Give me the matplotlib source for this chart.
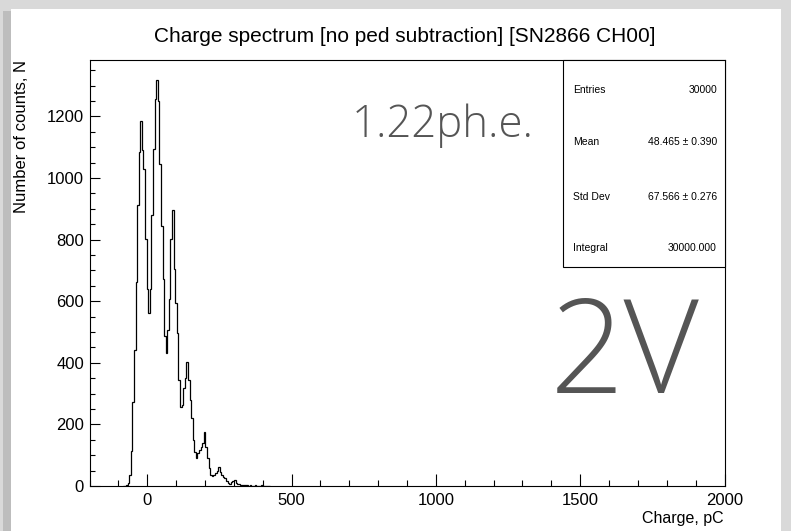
import numpy as np
import matplotlib.pyplot as plt
from matplotlib import font_manager
from matplotlib.patches import Rectangle
from matplotlib.ticker import MultipleLocator

# histogram: bins of 5.5 pC starting at -84.5 pC
bin_start = -84.5
bin_width = 5.5
counts = [
    0, 1, 3, 10, 36, 112, 273, 441, 661, 912,
    1084, 1185, 1091, 1029, 801, 641, 563, 638, 880, 1094,
    1257, 1317, 1250, 1045, 845, 671, 486, 433, 508, 606,
    801, 896, 704, 595, 497, 345, 258, 262, 318, 352,
    402, 345, 280, 221, 150, 110, 91, 107, 117, 128,
    140, 176, 128, 91, 58, 36, 33, 36, 42, 50,
    62, 47, 36, 30, 26, 17, 10, 8, 14, 17,
    20, 10, 7, 5, 3, 4, 3, 2, 2, 1,
    2, 1, 1, 2, 0, 1, 1, 2, 0, 1,
    0, 1, 1,
]

title = "Charge spectrum [no ped subtraction] [SN2866 CH00]"
xlabel = "Charge, pC"
ylabel = "Number of counts, N"
stats_names = ["Entries", "Mean", "Std Dev", "Integral"]
stats_values = ["30000", "48.465 \u00b1 0.390", "67.566 \u00b1 0.276", "30000.000"]
note_small = "1.22ph.e."
note_big = "2V"

W, H = 791, 531
plt.rcParams['font.family'] = ['Liberation Sans', 'DejaVu Sans']

# a light sans for the big grey labels, if one is around
light_font = None
for path in font_manager.findSystemFonts():
    name = path.split('/')[-1]
    if name in ('Lato-Light.ttf', 'OpenSans-Light.ttf', 'Roboto-Light.ttf'):
        light_font = path
        break
if light_font:
    light_props = dict(fontproperties=font_manager.FontProperties(fname=light_font))
else:
    light_props = dict(family=['Lato', 'DejaVu Sans'])


def fx(x):
    return x / W


def fy(y):
    return 1 - y / H


fig = plt.figure(figsize=(W / 100, H / 100), dpi=100)
fig.patch.set_facecolor('#d9d9d9')

# white canvas panel with a faint shadow on the left
fig.patches.append(Rectangle((fx(3), 0), fx(10), fy(11), transform=fig.transFigure,
                             facecolor='#bdbdbd', edgecolor='none', zorder=-2))
fig.patches.append(Rectangle((fx(11), 0), fx(770), fy(9), transform=fig.transFigure,
                             facecolor='white', edgecolor='none', zorder=-1))

ax = fig.add_axes([fx(89.5), fy(486), fx(724.5) - fx(89.5), fy(60) - fy(486)])
ax.set_facecolor('white')

edges = bin_start + bin_width * np.arange(len(counts) + 1)
ax.stairs(counts, edges, color='black', linewidth=0.9)

ax.set_xlim(-200, 2000)
ax.set_ylim(0, max(counts) * 1.05)

ax.xaxis.set_major_locator(MultipleLocator(500))
ax.xaxis.set_minor_locator(MultipleLocator(100))
ax.yaxis.set_major_locator(MultipleLocator(200))
ax.yaxis.set_minor_locator(MultipleLocator(50))
ax.tick_params(axis='both', which='both', direction='in', top=False, right=False,
               labelsize=12, width=0.8)
ax.tick_params(axis='x', which='major', length=8.5, pad=5)
ax.tick_params(axis='x', which='minor', length=4.3)
ax.tick_params(axis='y', which='major', length=7.5, pad=4)
ax.tick_params(axis='y', which='minor', length=3.8)
for s in ax.spines.values():
    s.set_linewidth(0.8)

fig.text(fx(405), fy(36), title, ha='center', va='center', fontsize=15)
fig.text(fx(724), fy(519), xlabel, ha='right', va='center', fontsize=11.5)
fig.text(fx(22), fy(60), ylabel, ha='center', va='top', rotation=90, fontsize=12)

# stats box
box = Rectangle((fx(563), fy(267)), fx(724.5) - fx(563), fy(60) - fy(267),
                transform=fig.transFigure, facecolor='white', edgecolor='black',
                linewidth=0.8, zorder=5)
fig.patches.append(box)
rows_y = [90, 142, 197, 248]
for name, val, yy in zip(stats_names, stats_values, rows_y):
    fig.text(fx(573), fy(yy), name, ha='left', va='center', fontsize=7.5, zorder=6)
    fig.text(fx(717), fy(yy), val, ha='right', va='center', fontsize=7.5, zorder=6)

# annotations
fig.text(fx(352), fy(137), note_small, ha='left', va='baseline', fontsize=31.5,
         color='#555555', **light_props)
fig.text(fx(550), fy(393), note_big, ha='left', va='baseline', fontsize=94,
         color='#555555', **light_props)

fig.savefig('out.png', dpi=100, facecolor=fig.get_facecolor())
